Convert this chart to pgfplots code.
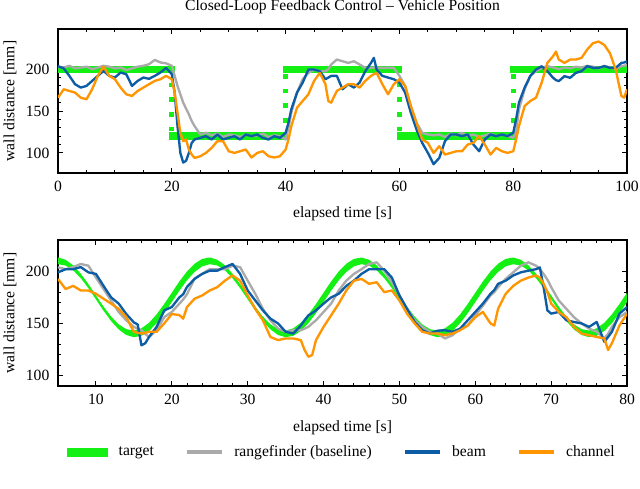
\documentclass[border=0pt]{standalone}
\usepackage{fontspec}
\setmainfont{Liberation Serif}
\usepackage{pgfplots}
\usepackage{pgfplotstable}
\pgfplotsset{compat=1.18}

\definecolor{tgreen}{RGB}{20,240,20}
\definecolor{cgray}{RGB}{170,170,170}
\definecolor{cblue}{RGB}{12,93,165}
\definecolor{corange}{RGB}{255,149,0}

\tikzset{
  gline/.style={cgray, line width=1.5pt, line join=round},
  bline/.style={cblue, line width=1.5pt, line join=round},
  oline/.style={corange, line width=1.5pt, line join=round},
  band/.style={tgreen, line width=4.7pt},
  dots/.style={tgreen, line width=3pt, dash pattern=on 3pt off 6.4pt},
}

% step response: t, rangefinder, beam, channel
\pgfplotstableread{
t g b o
0 203 203.5 166
1 202 201 176
2 204 192 174
3 201 182 172
4 202 178 166
5 203 180 164
6 200 186 176
7 202 192 192
8 204 198 203
9 203 192 192
10 201 190 188
11 202 196 178
12 199 194 170
13 201 180 168
14 203 186 174
15 204 190 178
16 206 188.5 182
17 211 192 186
18 208 196 188
19 207 201.5 192
20 204 194 188
20.5 192 172 172
21 180 132 148
21.5 170 100 124
22 160 88.5 114
22.5 153 90.5 116
23 146 100 104
23.5 138 112 98
24 132 116 94
25 122 118 96
26 124 120 100
27 121 116 106
28 123 122 114
29 119 116 114
30 122 118 102
31 121 120 100
32 119 116 102
33 122 122 104
34 120 120 94.5
35 121 122 100
36 123 118 102
37 119 116 96
38 121 120 94.5
39 120 118 96
40 116 124 104
40.5 130 136 116
41 148 152 132
42 172 172 154
43 188 184 162
44 195.6 199.6 170
45 199.6 199.6 186
46 197.6 197.6 195.6
47 197.6 188 182
47.5 200 190 162
48 205.6 192 160
49 211.5 192 174
50 209.5 176 178
51 207.5 182 182
52 209.5 178 182
53 205.6 184 178
54 201.6 197.6 186
55 201.6 207.5 192
55.5 202 213.5 194
56 201.6 199.6 195.6
57 201.6 192 182
58 201.6 190 170
59 201.6 188 182
60 192 184 188
61 180 172 180
62 156 148 156
63 136 128 136
64 124 112 116
65 122 100 112
66 121 86.5 100
67 122 94 108
68 119 114 98
69 123 122 100
70 121 122 102
71 124 120 102
72 120 122 110
73 122 110 112
74 119 102 120
75 121 116 110
76 123 122 98
77 120 120 106
78 122 122 102
79 120 120 100
80 118 124 102
80.5 125 140 116
81 152 160 132
82 176 178 156
83 192 192 162
84 197.6 199.6 166
85 201.6 203.5 184
86 203.6 197.6 207.5
87 202 189.7 215.5
87.5 201 187 221
88 200 185.7 211.5
89 202 191.7 207.5
90 201 189.7 211.5
91 203 195.6 211.5
92 202 197.6 213.5
93 204 203.6 223.5
94 203 201.6 231
95 201 201.6 233
96 204 203.6 229
97 202 201.6 219
98 200 201.6 199.6
99 204 207.5 168
99.5 204 208 166
100 205.6 209.5 176
}\steps

% sine tracking: t, rangefinder, beam, channel
\pgfplotstableread{
t g b o
5 203.8 199 192.7
6 202 202 183
7 204 202 186
8 207 204 181.6
9 205.4 199 181.6
10 194 197.5 178.4
11 183 186 173.7
12 172 175 169
13 161 169 164
14 153 159 156
15 146.7 151 142
15.5 145 149 141
16 143.5 129 140.3
16.5 140 131 141
17 137 137 142
18 143.5 146.7 142
19 156 162.5 150
20 161 165.7 159
21 169 175 158
21.5 173 178 154.6
22 178 185 165.7
23 193 192.7 173.7
24 197.5 197.5 176.8
25 202 200.6 181.6
26 202 200.6 184.8
27 202 204 191
28 205.4 207 196
29 204 197.5 191
30 191 181.6 176.8
31 178.4 172 164
32 164 162.5 153
33 153 154.6 137
34 145 150 134
35 142 142 135.6
36 143.5 140.3 135.6
37 143.5 148 134
37.5 145 153 124.5
38 146.7 157.8 118
38.5 150 160 119.7
39 153 162.5 134
40 161 169 146.7
41 169 175 157.8
42 181.6 178.4 169
43 191 186 181.6
44 197.5 191 191
45 202 197.5 192.7
46 207 202 188
47 208.6 202 189.5
48 200.6 202 180
49 189.5 194 181.6
50 176.8 176.8 172
51 164 164 159.4
52 153 151.4 150
53 146.7 143.5 142
54 142 140.3 140.3
55 140.3 143 140.3
56 135.6 143.5 138.7
57 138.7 142 140.3
58 145 145 143.5
59 148 153 148
60 157.8 161 156
61 167 169 161
62 176.8 178.4 150
62.5 180 182 148
63 184.8 188 164
64 192.7 191 178.4
65 199 196 186
66 205.4 199 191
67 208.6 200.6 194
68 205.4 202 196
68.5 202 203.8 194
69 197.5 184.8 188
69.5 192 162.5 180
70 184.8 159.4 169
71 172 161 161
72 164 153 156
73 156 151.4 146.7
74 150 150 140.3
75 145 146.7 138.7
76 142 151.4 137
77 135.6 132.4 135.6
77.5 140 137 124.5
78 146.7 142 131
79 156 159.4 148
80 161 165.7 159.4
}\sine

\pgfplotsset{
  panel/.style={
    scale only axis, width=364.2pt,
    tick align=inside, major tick length=3.2pt, minor tick length=1.9pt,
    every tick/.style={black, line width=0.6pt},
    axis line style={line width=0.8pt},
    /pgf/number format/assume math mode=true,
    ticklabel style={font=\fontsize{10}{12}\selectfont},
    label style={font=\fontsize{10}{12}\selectfont},
    xlabel={elapsed time [s]}, ylabel={wall distance [mm]},
    ylabel style={at={(axis description cs:-0.0844,0.5)}, anchor=center},
    yticklabel style={xshift=-2pt},
    xticklabel style={yshift=-1.5pt},
    minor y tick num=4,
  }
}

\begin{document}
\begin{tikzpicture}

\begin{axis}[panel, height=92.16pt,
  xmin=0, xmax=100, ymin=76, ymax=248,
  xtick={0,20,...,100}, ytick={100,150,200}, minor x tick num=3,
  xlabel style={at={(axis description cs:0.5,-0.285)}, anchor=center},
  title={Closed-Loop Feedback Control -- Vehicle Position},
  title style={at={(0.5,1)}, anchor=center, yshift=8.08pt, font=\fontsize{10}{12}\selectfont}]
\addplot[band] coordinates {(0,200) (20.5,200)};
\addplot[band] coordinates {(19.5,120) (40.5,120)};
\addplot[band] coordinates {(39.5,200) (60.5,200)};
\addplot[band] coordinates {(59.5,120) (80.5,120)};
\addplot[band] coordinates {(79.5,200) (100,200)};
\addplot[dots] coordinates {(20,183.8) (20,120)};
\addplot[dots] coordinates {(40,136.2) (40,200)};
\addplot[dots] coordinates {(60,183.8) (60,120)};
\addplot[dots] coordinates {(80,136.2) (80,200)};
\addplot[gline] table[x=t, y=g] {\steps};
\addplot[bline] table[x=t, y=b] {\steps};
\addplot[oline] table[x=t, y=o] {\steps};
\end{axis}

\begin{axis}[panel, height=93.44pt, at={(0pt,-136.32pt)}, anchor=south west,
  xmin=5, xmax=80, ymin=90, ymax=230,
  xtick={10,20,...,80}, ytick={100,150,200}, minor x tick num=4,
  xlabel style={at={(axis description cs:0.5,-0.288)}, anchor=center},
  legend columns=4,
  legend image code/.code={\draw[#1] (0pt,0pt) -- (22.4pt,0pt);},
  legend style={draw=none, fill=none, at={(0.5,-0.452)}, anchor=center,
    font=\fontsize{10}{12}\selectfont,
    /tikz/every odd column/.append style={column sep=5pt},
    /tikz/every even column/.append style={column sep=18pt}}]
% target band: upper edge forward, lower edge back
\addplot[fill=tgreen, draw=none, forget plot] coordinates {
(5,213.20) (6,211.09) (7,205.76) (8,197.72) (9,187.78) (10,176.90) (11,166.14) (12,156.58)
(13,149.12) (14,144.51) (15,143.20) (16,145.31) (17,150.64) (18,158.68) (19,168.62)
(20,179.50) (21,190.26) (22,199.82) (23,207.28) (24,211.89) (25,213.20) (26,211.09)
(27,205.76) (28,197.72) (29,187.78) (30,176.90) (31,166.14) (32,156.58) (33,149.12)
(34,144.51) (35,143.20) (36,145.31) (37,150.64) (38,158.68) (39,168.62) (40,179.50)
(41,190.26) (42,199.82) (43,207.28) (44,211.89) (45,213.20) (46,211.09) (47,205.76)
(48,197.72) (49,187.78) (50,176.90) (51,166.14) (52,156.58) (53,149.12) (54,144.51)
(55,143.20) (56,145.31) (57,150.64) (58,158.68) (59,168.62) (60,179.50) (61,190.26)
(62,199.82) (63,207.28) (64,211.89) (65,213.20) (66,211.09) (67,205.76) (68,197.72)
(69,187.78) (70,176.90) (71,166.14) (72,156.58) (73,149.12) (74,144.51) (75,143.20)
(76,145.31) (77,150.64) (78,158.68) (79,168.62) (80,179.50)
(80,170.50) (79,159.74) (78,150.18) (77,142.72) (76,138.11) (75,136.80) (74,138.91)
(73,144.24) (72,152.28) (71,162.22) (70,173.10) (69,183.86) (68,193.42) (67,200.88)
(66,205.49) (65,206.80) (64,204.69) (63,199.36) (62,191.32) (61,181.38) (60,170.50)
(59,159.74) (58,150.18) (57,142.72) (56,138.11) (55,136.80) (54,138.91) (53,144.24)
(52,152.28) (51,162.22) (50,173.10) (49,183.86) (48,193.42) (47,200.88) (46,205.49)
(45,206.80) (44,204.69) (43,199.36) (42,191.32) (41,181.38) (40,170.50) (39,159.74)
(38,150.18) (37,142.72) (36,138.11) (35,136.80) (34,138.91) (33,144.24) (32,152.28)
(31,162.22) (30,173.10) (29,183.86) (28,193.42) (27,200.88) (26,205.49) (25,206.80)
(24,204.69) (23,199.36) (22,191.32) (21,181.38) (20,170.50) (19,159.74) (18,150.18)
(17,142.72) (16,138.11) (15,136.80) (14,138.91) (13,144.24) (12,152.28) (11,162.22)
(10,173.10) (9,183.86) (8,193.42) (7,200.88) (6,205.49) (5,206.80)} -- cycle;
\addplot[gline, forget plot] table[x=t, y=g] {\sine};
\addplot[bline, forget plot] table[x=t, y=b] {\sine};
\addplot[oline, forget plot] table[x=t, y=o] {\sine};
\addlegendimage{legend image code/.code={\fill[tgreen] (0pt,-2.6pt) rectangle (25.6pt,2.6pt);}}
\addlegendimage{cgray, line width=2pt}
\addlegendimage{cblue, line width=2pt}
\addlegendimage{corange, line width=2pt}
\legend{target, rangefinder (baseline), beam, channel}
\end{axis}

\pgfresetboundingbox
\path[use as bounding box] (-37.12pt,-202.24pt) rectangle (372.48pt,110.72pt);
\end{tikzpicture}
\end{document}
